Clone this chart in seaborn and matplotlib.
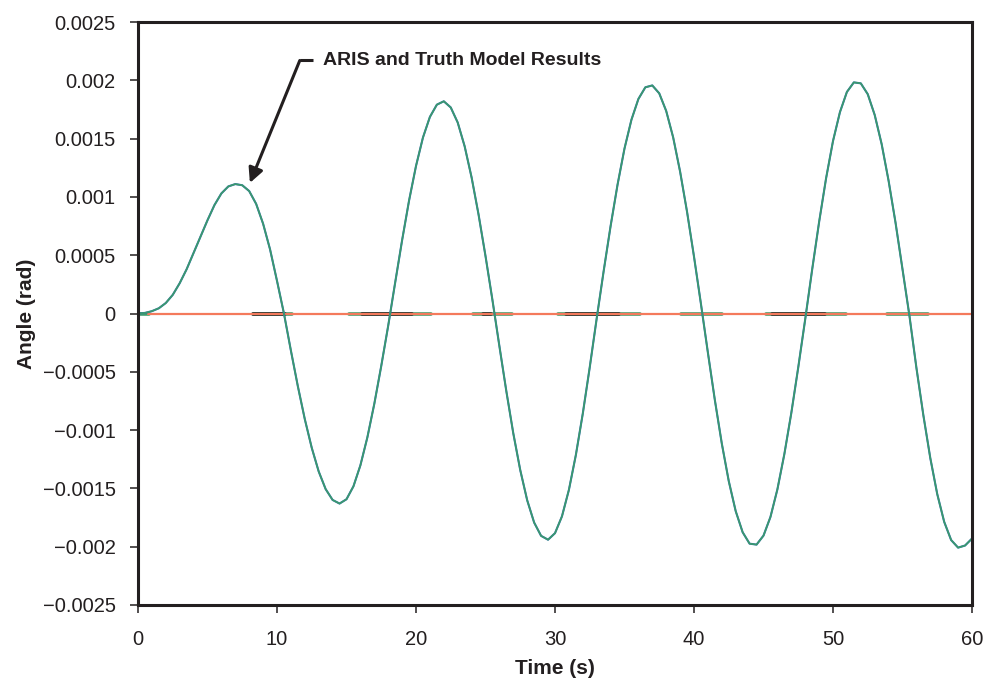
import numpy as np
import pandas as pd
import matplotlib
matplotlib.use("Agg")
import matplotlib.pyplot as plt
import seaborn as sns

# ---- data ----
time_s = np.arange(0, 60.5, 0.5)
angle_mrad = [
    0.0, 0.005, 0.02, 0.045, 0.09, 0.16, 0.26, 0.38, 0.52, 0.66, 0.80, 0.93, 1.03, 1.09, 1.11, 1.10, 1.05, 0.94, 0.77, 0.55, 0.28,
    0.0, -0.318, -0.624, -0.906, -1.152, -1.355, -1.506, -1.599, -1.63, -1.593, -1.482, -1.302, -1.063, -0.775, -0.450, -0.105,
    0.264, 0.628, 0.968, 1.265, 1.509, 1.686, 1.791, 1.82, 1.767, 1.638, 1.434, 1.167, 0.849, 0.493, 0.115,
    -0.280, -0.667, -1.028, -1.343, -1.602, -1.793, -1.907, -1.94, -1.884, -1.740, -1.513, -1.214, -0.858, -0.461, -0.042,
    0.363, 0.750, 1.105, 1.415, 1.662, 1.840, 1.940, 1.956, 1.888, 1.737, 1.511, 1.217, 0.872, 0.488, 0.082,
    -0.336, -0.742, -1.115, -1.437, -1.695, -1.876, -1.974, -1.982, -1.905, -1.745, -1.508, -1.206, -0.854, -0.462, -0.050,
    0.376, 0.784, 1.158, 1.479, 1.727, 1.900, 1.982, 1.974, 1.881, 1.703, 1.453, 1.138, 0.778, 0.380, -0.02,
    -0.465, -0.872, -1.240, -1.549, -1.787, -1.943, -2.008, -1.99, -1.93,
]
angle_rad = np.array(angle_mrad) * 1e-3

# near-zero pulse segments (start, end) in seconds
green_seg_start = [0.0, 8.3, 15.2, 24.1, 30.2, 39.1, 45.2, 53.9]
green_seg_end = [0.8, 11.1, 21.1, 26.9, 36.1, 42.0, 50.9, 56.8]
black_seg_start = [8.3, 16.1, 24.8, 30.8, 45.6]
black_seg_end = [10.6, 19.7, 25.4, 34.6, 49.4]
orange_t = [0.75, 60.0]
orange_v = [0.0, 0.0]

y_ticks = [0.0025, 0.002, 0.0015, 0.001, 0.0005, 0, -0.0005, -0.001, -0.0015, -0.002, -0.0025]
y_tick_labels = ["0.0025", "0.002", "0.0015", "0.001", "0.0005", "0",
                 "\u22120.0005", "\u22120.001", "\u22120.0015", "\u22120.002", "\u22120.0025"]
x_ticks = [0, 10, 20, 30, 40, 50, 60]

# ---- styling ----
sns.set_style("ticks")
plt.rcParams["font.family"] = ["Liberation Sans", "DejaVu Sans"]
narrow = ["Liberation Sans Narrow", "Liberation Sans", "DejaVu Sans"]
dark = "#231f20"

fig = plt.figure(figsize=(9.89, 6.87), dpi=100)
ax = fig.add_axes([138 / 989, 82 / 687, (972 - 138) / 989, (605 - 22) / 687])


def seg_frame(starts, ends):
    rows = []
    for i, (s, e) in enumerate(zip(starts, ends)):
        rows.append((s, 0.0, i))
        rows.append((e, 0.0, i))
    return pd.DataFrame(rows, columns=["t", "v", "seg"])


sns.lineplot(data=seg_frame(green_seg_start, green_seg_end), x="t", y="v", units="seg",
             estimator=None, color="#3f9e6e", lw=2.6, ax=ax, legend=False)
sns.lineplot(data=seg_frame(black_seg_start, black_seg_end), x="t", y="v", units="seg",
             estimator=None, color="#2a2526", lw=2.6, ax=ax, legend=False)
sns.lineplot(x=orange_t, y=orange_v, color="#f47a5c", lw=1.6, ax=ax, legend=False)

df = pd.DataFrame({"t": time_s, "angle": angle_rad})
sns.lineplot(data=df, x="t", y="angle", color="#3b6fb5", lw=1.5, ax=ax, legend=False)
sns.lineplot(data=df, x="t", y="angle", color="#3a9a6c", lw=1.2, ax=ax, legend=False)

ax.set_xlim(0, 60)
ax.set_ylim(-0.0025, 0.0025)
ax.set_xticks(x_ticks)
ax.set_xticklabels([str(v) for v in x_ticks])
ax.set_yticks(y_ticks)
ax.set_yticklabels(y_tick_labels)
ax.tick_params(axis="both", direction="out", length=6, width=1.1, color=dark,
               labelsize=14.5, labelcolor=dark)
ax.tick_params(axis="x", pad=12)
ax.tick_params(axis="y", pad=10)

for sp in ax.spines.values():
    sp.set_visible(True)
    sp.set_linewidth(2.2)
    sp.set_color(dark)

ax.set_xlabel("Time (s)", fontsize=15, fontweight="bold", family=narrow, color=dark, labelpad=7)
ax.set_ylabel("Angle (rad)", fontsize=15, fontweight="bold", family=narrow, color=dark, labelpad=5)

# annotation
ax.plot([11.64, 12.6], [0.00217, 0.00217], color=dark, lw=2.2, solid_capstyle="butt")
ax.annotate("", xy=(8.05, 0.00112), xytext=(11.64, 0.00217),
            arrowprops=dict(arrowstyle="-|>", color=dark, lw=2.2, mutation_scale=22,
                            shrinkA=0, shrinkB=0))
ax.text(13.3, 0.00217, "ARIS and Truth Model Results", fontsize=14, fontweight="bold",
        family=narrow, color=dark, ha="left", va="center")

fig.savefig("out.png", dpi=100)
